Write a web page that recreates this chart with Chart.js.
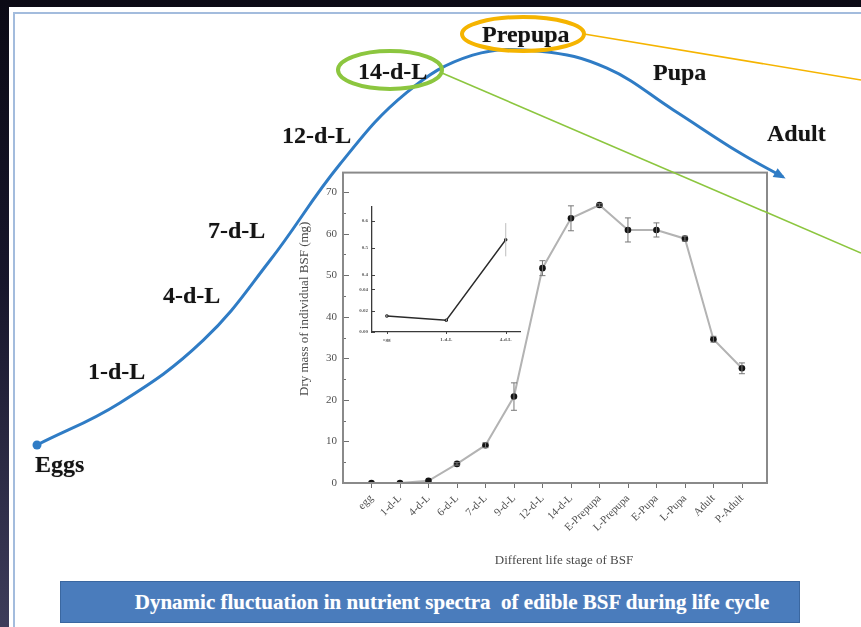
<!DOCTYPE html>
<html>
<head>
<meta charset="utf-8">
<script src="https://cdn.jsdelivr.net/npm/chart.js@4.4.1/dist/chart.umd.min.js"></script>
<style>
  html, body { margin: 0; padding: 0; width: 861px; height: 627px; overflow: hidden; background: #0c0b16; }
  #stage { position: relative; width: 861px; height: 627px;
    background: linear-gradient(180deg, #0b0a15 0%, #17162b 45%, #3d3c5a 100%); }
  #slide { position: absolute; left: 9px; top: 7px; width: 852px; height: 620px; background: #fff; }
  #frame { position: absolute; left: 13px; top: 12px; width: 848px; height: 615px;
    border-left: 2px solid #a3bcdd; border-top: 2px solid #a3bcdd; box-sizing: border-box; }
  .layer { position: absolute; }
  canvas { display: block; }
  .stage-label { position: absolute; font: bold 24px "Liberation Serif", "Times New Roman", serif;
    color: #141414; line-height: 24px; white-space: nowrap; text-shadow: 0 0 1px rgba(0,0,0,0.35); }
  #banner { position: absolute; left: 60px; top: 581px; width: 740px; height: 42px; box-sizing: border-box;
    background: #4a7cbc; border: 1px solid #3a67a0; color: #fff;
    font: bold 21px "Liberation Serif", "Times New Roman", serif; line-height: 40px; text-align: center;
    white-space: pre; padding-left: 44px; text-shadow: 0 0 1px rgba(255,255,255,0.4); }
</style>
</head>
<body>
<div id="stage">
  <div id="slide"></div>
  <div id="frame"></div>

  <div class="layer" style="left:290px; top:160px;"><canvas id="massChart" width="490" height="420"></canvas></div>
  <div class="layer" style="left:345px; top:195px;"><canvas id="insetChart" width="185" height="155"></canvas></div>
  <div class="layer" style="left:0; top:0;"><canvas id="cycleChart" width="861" height="627"></canvas></div>

  <svg class="layer" style="left:0; top:0;" width="861" height="627">
    <line x1="442" y1="73" x2="861" y2="253" stroke="#8cc63f" stroke-width="1.6"/>
    <ellipse cx="390" cy="70" rx="52" ry="19" fill="none" stroke="#8cc63f" stroke-width="4"/>
    <line x1="584" y1="34" x2="861" y2="80" stroke="#f5b400" stroke-width="1.6"/>
    <ellipse cx="523" cy="34" rx="61" ry="17" fill="none" stroke="#f5b400" stroke-width="4"/>
  </svg>

  <div class="stage-label" style="left:35px; top:452px;">Eggs</div>
  <div class="stage-label" style="left:88px; top:359px;">1-d-L</div>
  <div class="stage-label" style="left:163px; top:283px;">4-d-L</div>
  <div class="stage-label" style="left:208px; top:218px;">7-d-L</div>
  <div class="stage-label" style="left:282px; top:123px;">12-d-L</div>
  <div class="stage-label" style="left:358px; top:59px;">14-d-L</div>
  <div class="stage-label" style="left:482px; top:22px;">Prepupa</div>
  <div class="stage-label" style="left:653px; top:60px;">Pupa</div>
  <div class="stage-label" style="left:767px; top:121px;">Adult</div>

  <div id="banner">Dynamic fluctuation in nutrient spectra  of edible BSF during life cycle</div>
</div>

<script>
// Life stages of the black soldier fly and mean dry mass per individual (mg)
const stages = ['egg', '1-d-L', '4-d-L', '6-d-L', '7-d-L', '9-d-L', '12-d-L', '14-d-L',
  'E-Prepupa', 'L-Prepupa', 'E-Pupa', 'L-Pupa', 'Adult', 'P-Adult'];
const dryMass = [0.015, 0.011, 0.53, 4.6, 9.1, 20.8, 51.7, 63.7, 66.9, 60.9, 60.9, 58.8, 34.6, 27.6];
const dryMassSd = [0.001, 0.001, 0.062, 0.3, 0.6, 3.3, 1.8, 3.0, 0.3, 2.9, 1.7, 0.6, 0.7, 1.3];

// Inset: first three stages on a broken y axis
const insetStageCount = 3;
const insetTicks = [0, 0.02, 0.04, 0.4, 0.5, 0.6];
const insetSegments = [
  { from: 0, to: 0.046, start: 0, end: 0.392 },
  { from: 0.377, to: 0.652, start: 0.41, end: 1 }
];

// Schematic growth curve across the life cycle (relative time, relative size; 0-100)
const cycleTime = [0, 11.1, 22.3, 31.2, 40.6, 49.5, 58.4, 67.4, 76.4, 85.3, 94.2, 100];
const cycleSize = [0, 10.6, 26.4, 46.4, 70.7, 88.7, 98.2, 99.2, 94.9, 84.4, 73.6, 67.5];

const SERIF = '"Liberation Serif", "Times New Roman", serif';

// Linear scale with a gap: each segment maps a value range onto part of the axis
class BrokenLinearScale extends Chart.LinearScale {
  static id = 'brokenLinear';
  static defaults = Chart.LinearScale.defaults;
  determineDataLimits() {
    this.min = insetSegments[0].from;
    this.max = insetSegments[insetSegments.length - 1].to;
  }
  buildTicks() {
    return insetTicks.map(v => ({ value: v }));
  }
  _decimalFor(value) {
    let seg = insetSegments[0];
    for (const s of insetSegments) { if (value >= s.from) seg = s; }
    if (value > seg.to && seg !== insetSegments[insetSegments.length - 1]) {
      return seg.end;
    }
    return seg.start + (value - seg.from) / (seg.to - seg.from) * (seg.end - seg.start);
  }
  getPixelForValue(value) {
    return this.getPixelForDecimal(this._decimalFor(value));
  }
  getValueForPixel(pixel) {
    const d = this.getDecimalForPixel(pixel);
    for (const s of insetSegments) {
      if (d <= s.end) return s.from + (d - s.start) / (s.end - s.start) * (s.to - s.from);
    }
    return this.max;
  }
}
Chart.register(BrokenLinearScale);

// Vertical error bars with caps
const errorBars = {
  id: 'errorBars',
  afterDatasetsDraw(chart, args, o) {
    const { ctx, scales: { x, y } } = chart;
    ctx.save();
    ctx.strokeStyle = o.color;
    ctx.lineWidth = o.width;
    o.values.forEach((v, i) => {
      const e = o.errors[i];
      const px = x.getPixelForValue(i);
      const top = y.getPixelForValue(v + e);
      const bot = y.getPixelForValue(v - e);
      if (bot - top < 2) return;
      ctx.beginPath();
      ctx.moveTo(px, top); ctx.lineTo(px, bot);
      if (o.cap) {
        ctx.moveTo(px - o.cap, top); ctx.lineTo(px + o.cap, top);
        ctx.moveTo(px - o.cap, bot); ctx.lineTo(px + o.cap, bot);
      }
      ctx.stroke();
    });
    ctx.restore();
  }
};

// Tick marks (y inward, x outward), optional frame and axis titles
const axisDecor = {
  id: 'axisDecor',
  afterDraw(chart, args, o) {
    const { ctx, chartArea: a, scales: { x, y } } = chart;
    ctx.save();
    ctx.strokeStyle = o.tickColor;
    ctx.lineWidth = 1;
    ctx.beginPath();
    y.ticks.forEach(t => {
      const py = Math.round(y.getPixelForValue(t.value)) + 0.5;
      const len = (o.minorEvery && (t.value / o.minorEvery) % 2 === 1) ? o.minorLen : o.majorLen;
      ctx.moveTo(a.left, py); ctx.lineTo(a.left + len, py);
    });
    x.ticks.forEach(t => {
      if (t.value < 0) return;
      const px = Math.round(x.getPixelForValue(t.value)) + 0.5;
      ctx.moveTo(px, a.bottom); ctx.lineTo(px, a.bottom + o.xTickLen);
    });
    ctx.stroke();
    if (o.frame) {
      ctx.strokeStyle = o.frameColor;
      ctx.lineWidth = 2;
      ctx.strokeRect(a.left, a.top, a.right - a.left, a.bottom - a.top);
    }
    if (o.xTitle) {
      ctx.fillStyle = o.titleColor;
      ctx.font = '13px ' + SERIF;
      ctx.textAlign = 'center';
      ctx.textBaseline = 'middle';
      ctx.fillText(o.xTitle, (a.left + a.right) / 2 + 9, a.bottom + 78);
      ctx.translate(a.left - 38, (a.top + a.bottom) / 2 - 19);
      ctx.rotate(-Math.PI / 2);
      ctx.fillText(o.yTitle, 0, 0);
    }
    ctx.restore();
  }
};

// Main plot: dry mass through the life cycle
new Chart(document.getElementById('massChart'), {
  type: 'line',
  data: {
    datasets: [{
      data: stages.map((s, i) => ({ x: i, y: dryMass[i] })),
      borderColor: '#b3b3b3',
      borderWidth: 2,
      tension: 0,
      pointRadius: 3.3,
      pointBackgroundColor: '#141414',
      pointBorderWidth: 0
    }]
  },
  options: {
    responsive: false,
    animation: false,
    events: [],
    layout: { padding: { left: 0, right: 13, top: 11, bottom: 0 } },
    plugins: {
      legend: { display: false },
      tooltip: { enabled: false },
      errorBars: { values: dryMass, errors: dryMassSd, color: '#777', width: 1, cap: 3 },
      axisDecor: {
        tickColor: '#6f6f6f', majorLen: 6, minorLen: 3, minorEvery: 5, xTickLen: 5,
        frame: true, frameColor: '#8a8a8a', titleColor: '#4a4a4a',
        xTitle: 'Different life stage of BSF', yTitle: 'Dry mass of individual BSF (mg)'
      }
    },
    scales: {
      x: {
        type: 'linear', min: -1, max: 13.88,
        afterFit: s => { s.height = 97; },
        border: { display: false },
        grid: { display: false, drawTicks: false },
        ticks: {
          stepSize: 1, includeBounds: false, autoSkip: false, maxTicksLimit: 100,
          minRotation: 45, maxRotation: 45, padding: 9,
          color: '#505050', font: { family: SERIF, size: 11 },
          callback: v => (Number.isInteger(v) && v >= 0 ? stages[v] : '')
        }
      },
      y: {
        min: 0, max: 74.7,
        afterFit: s => { s.width = 53; },
        border: { display: false },
        grid: { display: false, drawTicks: false },
        ticks: {
          stepSize: 5, includeBounds: false, maxTicksLimit: 100, padding: 6,
          color: '#505050', font: { family: SERIF, size: 11 },
          callback: v => (v % 10 === 0 ? String(v) : '')
        }
      }
    }
  },
  plugins: [errorBars, axisDecor]
});

// Inset: egg to 4-d-L on a broken axis
new Chart(document.getElementById('insetChart'), {
  type: 'line',
  data: {
    datasets: [{
      data: stages.slice(0, insetStageCount).map((s, i) => ({ x: i, y: dryMass[i] })),
      borderColor: '#2a2a2a',
      borderWidth: 1.4,
      tension: 0,
      pointRadius: 1.7,
      pointBackgroundColor: '#111',
      pointBorderWidth: 0
    }]
  },
  options: {
    responsive: false,
    animation: false,
    events: [],
    layout: { padding: { left: 0, right: 10, top: 12, bottom: 0 } },
    plugins: {
      legend: { display: false },
      tooltip: { enabled: false },
      errorBars: {
        values: dryMass.slice(0, insetStageCount), errors: dryMassSd.slice(0, insetStageCount),
        color: '#bdbdbd', width: 1, cap: 0
      },
      axisDecor: { tickColor: '#444', majorLen: 3, minorLen: 3, minorEvery: 0, xTickLen: 2, frame: false }
    },
    scales: {
      x: {
        type: 'linear', min: -0.25, max: 2.24,
        afterFit: s => { s.height = 18; },
        border: { color: '#3a3a3a', width: 1.3 },
        grid: { display: false, drawTicks: false },
        ticks: {
          stepSize: 1, includeBounds: false, autoSkip: false, maxRotation: 0, padding: 5,
          color: '#555', font: { family: SERIF, size: 5, weight: 'bold' },
          callback: v => (Number.isInteger(v) ? stages[v] : '')
        }
      },
      y: {
        type: 'brokenLinear',
        afterFit: s => { s.width = 27; },
        border: { color: '#3a3a3a', width: 1.3 },
        grid: { display: false, drawTicks: false },
        ticks: {
          padding: 4, color: '#555', font: { family: SERIF, size: 5, weight: 'bold' },
          callback: v => (v < 0.1 ? v.toFixed(2) : v.toFixed(1))
        }
      }
    }
  },
  plugins: [errorBars, axisDecor]
});

// Arrow head at the end of the life-cycle curve
const arrowHead = {
  id: 'arrowHead',
  afterDatasetsDraw(chart, args, o) {
    const pts = chart.getDatasetMeta(0).data;
    const a = pts[pts.length - 2], b = pts[pts.length - 1];
    const ang = Math.atan2(b.y - a.y, b.x - a.x);
    const ctx = chart.ctx;
    ctx.save();
    ctx.translate(b.x, b.y);
    ctx.rotate(ang);
    ctx.beginPath();
    ctx.moveTo(3, 0);
    ctx.lineTo(-9, -5);
    ctx.lineTo(-9, 5);
    ctx.closePath();
    ctx.fillStyle = o.color;
    ctx.fill();
    ctx.restore();
  }
};

// Life-cycle growth curve drawn over the slide
new Chart(document.getElementById('cycleChart'), {
  type: 'line',
  data: {
    datasets: [{
      data: cycleTime.map((t, i) => ({ x: t, y: cycleSize[i] })),
      borderColor: '#2f7cc5',
      borderWidth: 3,
      tension: 0.4,
      pointRadius: ctx => (ctx.dataIndex === 0 ? 4.5 : 0),
      pointBackgroundColor: '#2f7cc5',
      pointBorderWidth: 0,
      clip: false
    }]
  },
  options: {
    responsive: false,
    animation: false,
    events: [],
    layout: { padding: { left: 37, right: 78, top: 48, bottom: 182 } },
    plugins: {
      legend: { display: false },
      tooltip: { enabled: false },
      arrowHead: { color: '#2f7cc5' }
    },
    scales: {
      x: { type: 'linear', min: 0, max: 100, display: false },
      y: { min: 0, max: 100, display: false }
    }
  },
  plugins: [arrowHead]
});
</script>
</body>
</html>
